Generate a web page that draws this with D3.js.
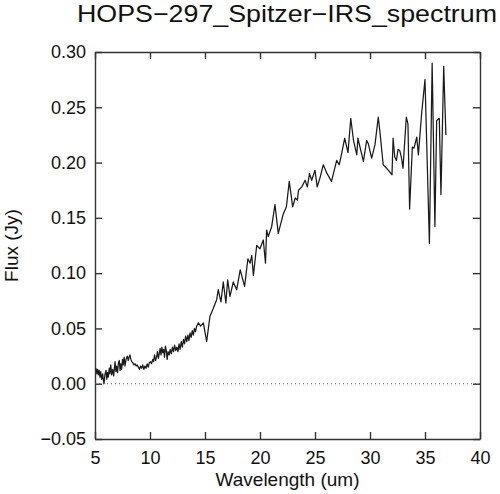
<!DOCTYPE html>
<html>
<head>
<meta charset="utf-8">
<script src="https://cdn.jsdelivr.net/npm/d3@7"></script>
<style>
    body { margin: 0; background: #fff; }
    svg text { font-family: "Liberation Sans", Arial, Helvetica, sans-serif; fill: #111; }
</style>
</head>
<body>
<div id="chart"></div>
<script>
// spectrum samples
const wavelength = [
    5.09, 5.17, 5.24, 5.30, 5.38, 5.45, 5.52, 5.60, 5.70, 5.76, 5.82, 5.90, 6.00, 6.07, 6.14,
    6.21, 6.30, 6.36, 6.43, 6.52, 6.61, 6.70, 6.82, 6.90, 6.97, 7.05, 7.13, 7.21, 7.28, 7.34,
    7.42, 7.50, 7.57, 7.65, 7.73, 7.82, 7.94, 8.02, 8.10, 8.18, 8.26, 8.34, 8.44, 8.54, 8.64,
    8.74, 8.84, 8.94, 9.04, 9.14, 9.24, 9.34, 9.44, 9.54, 9.64, 9.74, 9.84, 9.94, 10.04, 10.14,
    10.24, 10.32, 10.42, 10.50, 10.60, 10.68, 10.76, 10.84, 10.92, 11.00, 11.08, 11.16, 11.24, 11.32, 11.40,
    11.48, 11.56, 11.64, 11.74, 11.84, 11.94, 12.04, 12.14, 12.24, 12.34, 12.44, 12.54, 12.64, 12.74, 12.84,
    12.94, 13.04, 13.14, 13.24, 13.34, 13.44, 13.54, 13.64, 13.74, 13.84, 13.94, 14.04, 14.14, 14.24, 14.40,
    14.60, 14.85, 15.15, 15.45, 15.75, 16.06, 16.20, 16.45, 16.66, 16.90, 17.06, 17.27, 17.57, 17.88, 18.20,
    18.60, 18.90, 19.10, 19.25, 19.40, 19.70, 20.00, 20.30, 20.50, 20.60, 20.75, 21.06, 21.36, 21.66, 22.10,
    22.40, 22.66, 22.97, 23.20, 23.40, 23.50, 23.80, 24.10, 24.30, 24.50, 24.70, 25.00, 25.20, 25.45, 25.75,
    26.10, 26.50, 26.97, 27.20, 27.40, 27.70, 28.00, 28.25, 28.50, 28.80, 28.90, 29.40, 29.70, 29.85, 30.15,
    30.45, 30.75, 30.90, 31.20, 31.50, 31.75, 32.00, 32.10, 32.25, 32.40, 32.55, 32.70, 32.85, 33.00, 33.30,
    33.45, 33.60, 33.85, 34.00, 34.10, 34.25, 34.40, 34.70, 35.00, 35.40, 35.65, 35.90, 36.06, 36.30, 36.45,
    36.70, 36.90
];
const flux = [
    0.014, 0.009, 0.013, 0.008, 0.012, 0.006, 0.011, 0.004, 0.009, 0.003, 0.000, 0.008, 0.012, 0.004, 0.010,
    0.006, 0.014, 0.009, 0.017, 0.008, 0.013, 0.007, 0.020, 0.011, 0.016, 0.010, 0.019, 0.021, 0.012, 0.018,
    0.013, 0.022, 0.017, 0.024, 0.016, 0.022, 0.025, 0.021, 0.024, 0.026, 0.022, 0.020, 0.019, 0.017, 0.018,
    0.016, 0.017, 0.015, 0.013, 0.016, 0.014, 0.017, 0.013, 0.016, 0.014, 0.018, 0.015, 0.019, 0.020, 0.018,
    0.022, 0.020, 0.026, 0.021, 0.024, 0.029, 0.023, 0.027, 0.032, 0.026, 0.033, 0.028, 0.031, 0.024, 0.034,
    0.030, 0.022, 0.029, 0.026, 0.031, 0.027, 0.033, 0.029, 0.035, 0.030, 0.033, 0.029, 0.036, 0.031, 0.038,
    0.033, 0.040, 0.036, 0.043, 0.038, 0.044, 0.039, 0.046, 0.042, 0.048, 0.044, 0.050, 0.047, 0.052, 0.055,
    0.052, 0.055, 0.038, 0.061, 0.068, 0.076, 0.085, 0.074, 0.092, 0.073, 0.094, 0.079, 0.092, 0.085, 0.103,
    0.088, 0.113, 0.109, 0.116, 0.098, 0.125, 0.122, 0.130, 0.109, 0.139, 0.133, 0.142, 0.162, 0.136, 0.153,
    0.160, 0.183, 0.160, 0.168, 0.166, 0.175, 0.178, 0.184, 0.178, 0.190, 0.184, 0.193, 0.178, 0.186, 0.198,
    0.190, 0.183, 0.202, 0.198, 0.207, 0.222, 0.209, 0.240, 0.220, 0.207, 0.222, 0.201, 0.220, 0.217, 0.204,
    0.216, 0.241, 0.228, 0.198, 0.195, 0.192, 0.189, 0.222, 0.205, 0.202, 0.212, 0.211, 0.205, 0.195, 0.241,
    0.235, 0.158, 0.214, 0.213, 0.217, 0.223, 0.207, 0.245, 0.275, 0.127, 0.290, 0.142, 0.238, 0.240, 0.171,
    0.287, 0.225
];
const xTicks = [5, 10, 15, 20, 25, 30, 35, 40];
const yTicks = [-0.05, 0.00, 0.05, 0.10, 0.15, 0.20, 0.25, 0.30];

const width = 500,
    height = 494,
    margin = { top: 52, right: 20, bottom: 55, left: 95 };

const x = d3.scaleLinear().domain([5, 40]).range([margin.left, width - margin.right]);
const y = d3.scaleLinear().domain([-0.05, 0.30]).range([height - margin.bottom, margin.top]);

const svg = d3.select('#chart').append('svg')
    .attr('width', width)
    .attr('height', height);

const tickLen = 7;
const fmtY = d3.format('.2f');

// axes: labelled bottom/left, bare ticks on top/right, all pointing inward
svg.append('g')
    .attr('transform', 'translate(0,' + (height - margin.bottom) + ')')
    .call(d3.axisBottom(x).tickValues(xTicks).tickSizeInner(-tickLen).tickSizeOuter(0).tickPadding(12))
    .call(g => g.selectAll('text').attr('font-size', 18));

svg.append('g')
    .attr('transform', 'translate(' + margin.left + ',0)')
    .call(d3.axisLeft(y).tickValues(yTicks).tickFormat(fmtY).tickSizeInner(-tickLen).tickSizeOuter(0).tickPadding(9))
    .call(g => g.selectAll('text').attr('font-size', 18));

svg.append('g')
    .attr('transform', 'translate(0,' + margin.top + ')')
    .call(d3.axisTop(x).tickValues(xTicks).tickSizeInner(-tickLen).tickSizeOuter(0).tickFormat(''));

svg.append('g')
    .attr('transform', 'translate(' + (width - margin.right) + ',0)')
    .call(d3.axisRight(y).tickValues(yTicks).tickSizeInner(-tickLen).tickSizeOuter(0).tickFormat(''));

svg.selectAll('.domain, .tick line')
    .attr('stroke', '#333')
    .attr('stroke-width', 1.4);

// zero reference line
svg.append('line')
    .attr('x1', x(5)).attr('x2', x(40))
    .attr('y1', y(0)).attr('y2', y(0))
    .attr('stroke', '#555')
    .attr('stroke-width', 1)
    .attr('stroke-dasharray', '1,3');

const pts = wavelength.map((w, i) => [w, flux[i]]);

svg.append('path')
    .datum(pts)
    .attr('fill', 'none')
    .attr('stroke', '#1a1a1a')
    .attr('stroke-width', 1.25)
    .attr('stroke-linejoin', 'round')
    .attr('d', d3.line().x(d => x(d[0])).y(d => y(d[1])));

// titles
svg.append('text')
    .attr('x', 287)
    .attr('y', 22)
    .attr('text-anchor', 'middle')
    .attr('font-size', 24)
    .attr('textLength', 420)
    .attr('lengthAdjust', 'spacingAndGlyphs')
    .text('HOPS\u2212297_Spitzer\u2212IRS_spectrum');

svg.append('text')
    .attr('x', (x(5) + x(40)) / 2)
    .attr('y', 486)
    .attr('text-anchor', 'middle')
    .attr('font-size', 19)
    .text('Wavelength (um)');

svg.append('text')
    .attr('transform', 'translate(18,' + ((y(-0.05) + y(0.30)) / 2) + ') rotate(-90)')
    .attr('text-anchor', 'middle')
    .attr('font-size', 19)
    .text('Flux (Jy)');
</script>
</body>
</html>
